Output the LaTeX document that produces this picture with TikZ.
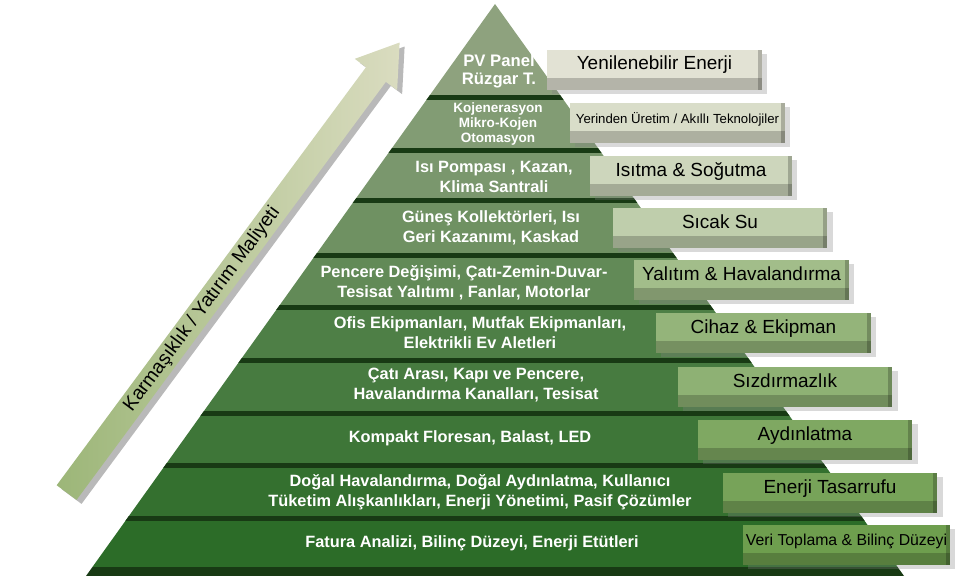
\documentclass[tikz,border=0pt]{standalone}
\usepackage{fontspec}
\setmainfont{Liberation Sans}
\usetikzlibrary{shapes.arrows,shadows,calc}
\definecolor{laytop}{RGB}{142,162,126}
\definecolor{laybot}{RGB}{44,108,40}
\definecolor{layline}{RGB}{24,58,20}
\definecolor{boxtop}{RGB}{226,226,212}
\definecolor{boxbot}{RGB}{110,158,78}
\definecolor{arrowlow}{RGB}{156,182,120}
\definecolor{arrowhigh}{RGB}{218,220,192}
\tikzstyle{layertext} = [text=white, align=center, font=\fontsize{9.3}{11.3}\selectfont\bfseries]
\tikzstyle{levelbox} = [rectangle, minimum width=4.3cm, minimum height=0.8cm, inner sep=0pt, text height=2mm, text depth=2mm, font=\fontsize{10.8}{12}\selectfont, drop shadow={shadow xshift=3pt, shadow yshift=-2pt, opacity=.3}, path picture={\fill[black, opacity=.2] (path picture bounding box.south west) rectangle ([yshift=0.24cm]path picture bounding box.south east); \fill[black, opacity=.22] ([xshift=-0.08cm]path picture bounding box.north east) rectangle (path picture bounding box.south east);}]
\tikzstyle{costarrow} = [single arrow, rotate=53.5, anchor=tip, minimum height=11.2cm, inner xsep=0pt, inner ysep=0.24cm, single arrow head extend=0.28cm, single arrow tip angle=67]
\tikzstyle{divider} = [fill=layline]

\begin{document}
\begin{tikzpicture}[x=0.02cm, y=-0.02cm]
	\useasboundingbox (0,0) rectangle (959,581);

	% arrow on the left
	\node[costarrow, fill=gray!55] (costshadow) at (405,46) {};
	\node[costarrow, left color=arrowlow, right color=arrowhigh] (cost) at (400,42) {};
	\node[rotate=53.5, font=\fontsize{11}{13}\selectfont] (costlabel) at ($(cost.tip)!0.593!(cost.tail)$) {Karmaşıklık / Yatırım Maliyeti};

	% pyramid layers
	\begin{scope}
	\clip (495,4) -- (86,576) -- (904,576) -- cycle;
	\fill[laytop] (0,0) rectangle (959,97);
	\fill[laybot!12!laytop] (0,97) rectangle (959,150);
	\fill[laybot!20!laytop] (0,150) rectangle (959,200);
	\fill[laybot!32!laytop] (0,200) rectangle (959,255);
	\fill[laybot!45!laytop] (0,255) rectangle (959,307);
	\fill[laybot!65!laytop] (0,307) rectangle (959,360);
	\fill[laybot!72!laytop] (0,360) rectangle (959,413);
	\fill[laybot!82!laytop] (0,413) rectangle (959,465);
	\fill[laybot!92!laytop] (0,465) rectangle (959,518);
	\fill[laybot] (0,518) rectangle (959,567);
	\fill[divider] (0,95) rectangle (959,100);
	\fill[divider] (0,148) rectangle (959,153);
	\fill[divider] (0,198) rectangle (959,203);
	\fill[divider] (0,253) rectangle (959,258);
	\fill[divider] (0,305) rectangle (959,310);
	\fill[divider] (0,358) rectangle (959,363);
	\fill[divider] (0,411) rectangle (959,416);
	\fill[divider] (0,463) rectangle (959,468);
	\fill[divider] (0,516) rectangle (959,521);
	\fill[divider] (0,567) rectangle (959,576);
	\end{scope}

	% texts on the layers
	\node[layertext, font=\fontsize{9.5}{10.3}\selectfont\bfseries] (pv) at (499,71) {PV Panel\\Rüzgar T.};
	\node[layertext, font=\fontsize{7.7}{8.8}\selectfont\bfseries] (cogen) at (498,124) {Kojenerasyon\\Mikro-Kojen\\Otomasyon};
	\node[layertext] (heatpump) at (494,177) {Isı Pompası , Kazan,\\Klima Santrali};
	\node[layertext] (solar) at (491,228) {Güneş Kollektörleri, Isı\\Geri Kazanımı, Kaskad};
	\node[layertext] (insul) at (464,283) {Pencere Değişimi, Çatı-Zemin-Duvar-\\Tesisat Yalıtımı , Fanlar, Motorlar};
	\node[layertext] (office) at (480,333) {Ofis Ekipmanları, Mutfak Ekipmanları,\\Elektrikli Ev Aletleri};
	\node[layertext] (seal) at (476,385) {Çatı Arası, Kapı ve Pencere,\\Havalandırma Kanalları, Tesisat};
	\node[layertext] (lamp) at (470,438) {Kompakt Floresan, Balast, LED};
	\node[layertext] (habit) at (480,492) {Doğal Havalandırma, Doğal Aydınlatma, Kullanıcı\\Tüketim Alışkanlıkları, Enerji Yönetimi, Pasif Çözümler};
	\node[layertext] (bill) at (472,543) {Fatura Analizi, Bilinç Düzeyi, Enerji Etütleri};

	% category boxes
	\node[levelbox, fill=boxtop] (renew) at (654.5,70) {Yenilenebilir Enerji};
	\node[levelbox, fill=boxbot!8!boxtop, font=\fontsize{7.5}{9}\selectfont] (onsite) at (677.5,123) {Yerinden Üretim / Akıllı Teknolojiler};
	\node[levelbox, fill=boxbot!18!boxtop, minimum width=4.04cm] (hvac) at (691,176) {Isıtma \& Soğutma};
	\node[levelbox, fill=boxbot!30!boxtop] (hotwater) at (720,228) {Sıcak Su};
	\node[levelbox, fill=boxbot!55!boxtop] (insulbox) at (741.5,280) {Yalıtım \& Havalandırma};
	\node[levelbox, fill=boxbot!67!boxtop] (device) at (763.5,333) {Cihaz \& Ekipman};
	\node[levelbox, fill=boxbot!72!boxtop] (sealing) at (785,387) {Sızdırmazlık};
	\node[levelbox, fill=boxbot!85!boxtop] (lighting) at (805,440) {Aydınlatma};
	\node[levelbox, fill=boxbot!92!boxtop] (saving) at (830,493) {Enerji Tasarrufu};
	\node[levelbox, fill=boxbot, minimum width=4.14cm, font=\fontsize{9}{11}\selectfont] (data) at (846.5,545) {Veri Toplama \& Bilinç Düzeyi};

\end{tikzpicture}
\end{document}
